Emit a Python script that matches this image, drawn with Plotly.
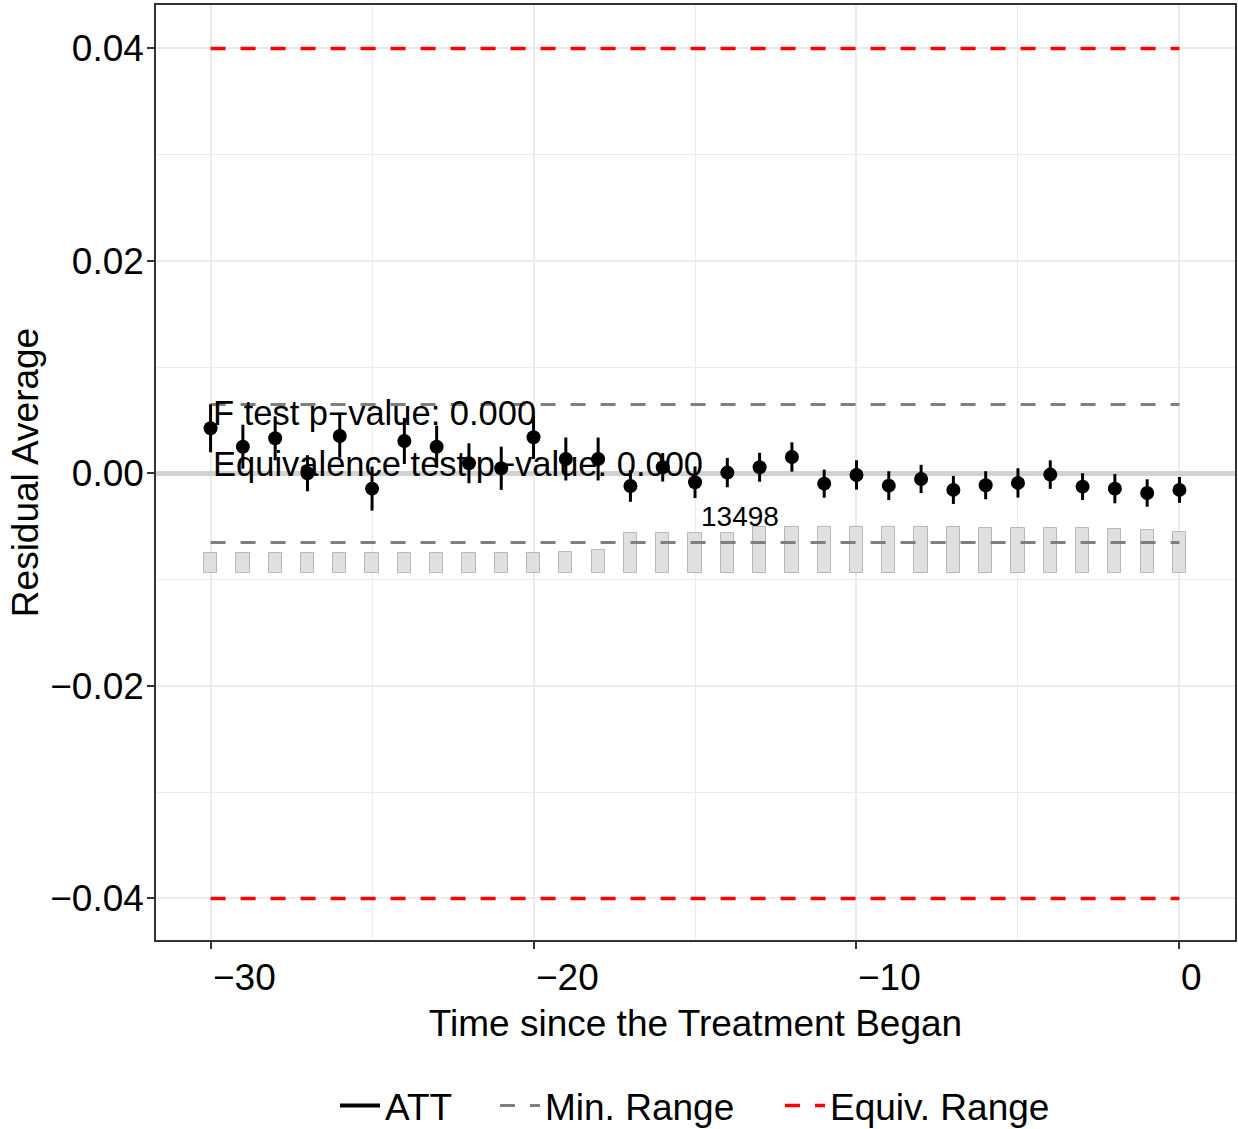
import plotly.graph_objects as go

# ---------------- data ----------------
times = list(range(-30, 1))
att = [0.00425, 0.00252, 0.00331, 0.00002, 0.00353, -0.00143, 0.00306, 0.00252,
       0.00096, 0.00049, 0.00341, 0.00136, 0.00136, -0.00118, 0.00058, -0.00083,
       0.00008, 0.00058, 0.00155, -0.00096, -0.00014, -0.00115, -0.00052, -0.00155,
       -0.00111, -0.00089, -0.00011, -0.00124, -0.00143, -0.00184, -0.00155]
ci_half = [0.00226, 0.00207, 0.00207, 0.00170, 0.00204, 0.00207, 0.00217, 0.00198,
           0.00188, 0.00204, 0.00204, 0.00202, 0.00202, 0.00149, 0.00134, 0.00149,
           0.00138, 0.00136, 0.00138, 0.00132, 0.00138, 0.00136, 0.00133, 0.00132,
           0.00132, 0.00138, 0.00134, 0.00126, 0.00138, 0.00129, 0.00122]
counts = [5869, 5869, 5869, 5869, 5869, 5869, 5869, 5869, 5869, 5869, 6074,
          6162, 6837, 11737, 11737, 11943, 11943, 13498, 13498, 13498, 13498,
          13498, 13498, 13498, 13400, 13302, 13205, 13205, 13107, 12706, 12119]
min_range = 0.0065
equiv_range = 0.04
legend_names = ["ATT", "Min. Range", "Equiv. Range"]
f_test_text = "F test p\u2212value: 0.000"
equiv_test_text = "Equivalence test p\u2212value: 0.000"
x_tickvals = [-30, -20, -10, 0]
x_ticktext = ["\u221230", "\u221220", "\u221210", "0"]
y_tickvals = [0.04, 0.02, 0.0, -0.02, -0.04]
y_ticktext = ["0.04", "0.02", "0.00", "\u22120.02", "\u22120.04"]

# ---------------- styling constants ----------------
FONT = "Liberation Sans, Arial, Helvetica, sans-serif"
BIG = 37
W, H = 1238, 1129
bar_base = -0.00939
bar_max_h = 0.00433
max_count = max(counts)
bar_h = [c / max_count * bar_max_h for c in counts]
max_idx = counts.index(max_count)
legend_left_px = [335, 495, 780]   # left edge of each legend box (container px)

fig = go.Figure()

# count bars
fig.add_trace(go.Bar(
    x=times, y=bar_h, base=bar_base, width=0.41,
    marker=dict(color="#E0E0E0", line=dict(color="#B8B8B8", width=1)),
    showlegend=False, hoverinfo="skip"))

x0, x1 = times[0], times[-1]
# min range lines
for i, s in enumerate([1, -1]):
    fig.add_trace(go.Scatter(
        x=[x0, x1], y=[s * min_range, s * min_range], mode="lines",
        line=dict(color="#7F7F7F", width=3, dash="15px,15px"),
        name=legend_names[1], legendgroup="min", showlegend=(i == 0), legend="legend2"))
# equivalence range lines
for i, s in enumerate([1, -1]):
    fig.add_trace(go.Scatter(
        x=[x0, x1], y=[s * equiv_range, s * equiv_range], mode="lines",
        line=dict(color="#FF0000", width=3.5, dash="15px,15px"),
        name=legend_names[2], legendgroup="eq", showlegend=(i == 0), legend="legend3"))

# ATT points with CIs
fig.add_trace(go.Scatter(
    x=times, y=att, mode="markers",
    marker=dict(color="black", size=14),
    error_y=dict(type="data", array=ci_half, color="black", thickness=3, width=0),
    name=legend_names[0], showlegend=False))
# legend entry for ATT (line key)
fig.add_trace(go.Scatter(
    x=[None], y=[None], mode="lines", line=dict(color="black", width=4),
    name=legend_names[0], legend="legend"))

annotations = []
# x tick labels (left aligned at ticks)
for v, t in zip(x_tickvals, x_ticktext):
    annotations.append(dict(x=v, y=-0.0396, xref="x", yref="paper", text=t,
                            showarrow=False, xanchor="left", yanchor="middle",
                            font=dict(family=FONT, size=BIG, color="black")))
annotations.append(dict(x=x0, y=0.00567, xref="x", yref="y", text=f_test_text,
                        showarrow=False, xanchor="left", yanchor="middle",
                        font=dict(family=FONT, size=34.5, color="black")))
annotations.append(dict(x=x0, y=0.000875, xref="x", yref="y", text=equiv_test_text,
                        showarrow=False, xanchor="left", yanchor="middle",
                        font=dict(family=FONT, size=34.5, color="black")))
annotations.append(dict(x=times[max_idx] - 0.6, y=-0.00409, xref="x", yref="y",
                        text=str(max_count), showarrow=False,
                        xanchor="center", yanchor="middle",
                        font=dict(family=FONT, size=28, color="black")))


def legend_box(px):
    return dict(orientation="h", xref="container", x=px / W, xanchor="left",
                yref="container", y=0.0204, yanchor="middle",
                font=dict(family=FONT, size=BIG, color="black"),
                bgcolor="rgba(0,0,0,0)", itemwidth=40)


fig.update_layout(
    width=W, height=H,
    margin=dict(l=156, r=3, t=5, b=189, autoexpand=False),
    paper_bgcolor="white", plot_bgcolor="white",
    font=dict(family=FONT, size=BIG, color="black"),
    bargap=0,
    annotations=annotations,
    legend=legend_box(legend_left_px[0]),
    legend2=legend_box(legend_left_px[1]),
    legend3=legend_box(legend_left_px[2]),
)
fig.update_xaxes(
    automargin=False,
    range=[-31.69, 1.72], tickvals=x_tickvals, showticklabels=False,
    ticks="outside", ticklen=7, tickwidth=1.5, tickcolor="#333333",
    showgrid=True, gridcolor="#EBEBEB", gridwidth=2,
    minor=dict(tickvals=[-25, -15, -5], showgrid=True, gridcolor="#EBEBEB", gridwidth=1),
    zeroline=False, showline=True, mirror=True, linecolor="#333333", linewidth=1.5,
    title=dict(text="Time since the Treatment Began",
               font=dict(family=FONT, size=BIG, color="black"), standoff=62),
)
fig.update_yaxes(
    automargin=False,
    range=[-0.04391, 0.04409], tickvals=y_tickvals, ticktext=y_ticktext,
    tickfont=dict(family=FONT, size=BIG, color="black"), ticklabelstandoff=-4,
    ticks="outside", ticklen=7, tickwidth=1.5, tickcolor="#333333",
    showgrid=True, gridcolor="#EBEBEB", gridwidth=2,
    minor=dict(tickvals=[0.03, 0.01, -0.01, -0.03], showgrid=True, gridcolor="#EBEBEB", gridwidth=1),
    zeroline=True, zerolinecolor="#D2D2D2", zerolinewidth=5,
    showline=True, mirror=True, linecolor="#333333", linewidth=1.5,
    title=dict(text="Residual Average",
               font=dict(family=FONT, size=BIG, color="black"), standoff=0),
)

fig.write_html("out.html", config={"displayModeBar": False},
               post_script="document.body.style.margin='0px';document.body.style.padding='0px';")
